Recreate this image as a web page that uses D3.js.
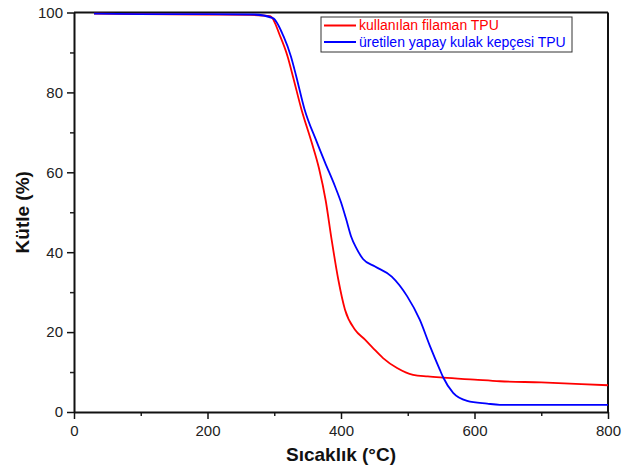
<!DOCTYPE html>
<html>
<head>
<meta charset="utf-8">
<script src="https://cdn.jsdelivr.net/npm/d3@7"></script>
<style>
  body { margin: 0; background: #fff; }
  text { font-family: "Liberation Sans", Arial, sans-serif; }
</style>
</head>
<body>
<div id="chart"></div>
<script>
const width = 634;
const height = 470;

// temperature (°C) / mass (%)
const filamanT = [30, 100, 200, 264, 294, 309, 320, 328, 341, 356, 367, 377, 386, 396, 406, 421, 436, 448, 463, 484, 508, 530, 553, 600, 638, 700, 760, 800];
const filamanM = [99.7, 99.6, 99.5, 99.4, 99.1, 94, 89, 84, 75.6, 67.5, 61, 53, 43.1, 33.1, 25.6, 20.6, 18.1, 16, 13.5, 11, 9.3, 8.9, 8.6, 8.1, 7.7, 7.4, 7.0, 6.7];
const kulakT = [30, 100, 200, 270, 298, 314, 325, 333, 345, 364, 376, 391, 400, 408, 415, 423, 433, 451, 476, 499, 518, 533, 548, 553, 568, 589, 619, 638, 700, 800];
const kulakM = [99.7, 99.6, 99.6, 99.5, 98.6, 94, 89, 84, 76, 67.5, 62.5, 56.5, 52.5, 48.1, 44, 41, 38.3, 36.4, 33.9, 29, 23.1, 16.6, 10.6, 8.7, 4.8, 2.8, 2.1, 1.8, 1.8, 1.8];
const seriesNames = ["kullanılan filaman TPU", "üretilen yapay kulak kepçesi TPU"];
const seriesColors = ["#ff0000", "#0000ff"];
const xTicks = [0, 200, 400, 600, 800];
const yTicks = [0, 20, 40, 60, 80, 100];

const margin = { left: 74, right: 26, top: 12.5, bottom: 58 };

const svg = d3.select("#chart").append("svg")
  .attr("width", width)
  .attr("height", height);

const x = d3.scaleLinear().domain([0, 800]).range([margin.left, width - margin.right]);
const y = d3.scaleLinear().domain([0, 100]).range([height - margin.bottom, margin.top]);

// minor ticks
svg.append("g")
  .attr("transform", `translate(0,${y(0)})`)
  .call(d3.axisBottom(x).tickValues([100, 300, 500, 700]).tickSize(4).tickFormat(""))
  .call(g => g.select(".domain").remove())
  .selectAll("line").attr("stroke", "#222").attr("stroke-width", 1.5);
svg.append("g")
  .attr("transform", `translate(${x(0)},0)`)
  .call(d3.axisLeft(y).tickValues([10, 30, 50, 70, 90]).tickSize(4).tickFormat(""))
  .call(g => g.select(".domain").remove())
  .selectAll("line").attr("stroke", "#222").attr("stroke-width", 1.5);

// major axes
const xAxis = svg.append("g")
  .attr("transform", `translate(0,${y(0)})`)
  .call(d3.axisBottom(x).tickValues(xTicks).tickSize(7).tickSizeOuter(0).tickPadding(6));
const yAxis = svg.append("g")
  .attr("transform", `translate(${x(0)},0)`)
  .call(d3.axisLeft(y).tickValues(yTicks).tickSize(7).tickSizeOuter(0).tickPadding(4));

[xAxis, yAxis].forEach(a => {
  a.select(".domain").attr("stroke", "#111").attr("stroke-width", 2);
  a.selectAll(".tick line").attr("stroke", "#111").attr("stroke-width", 1.5);
  a.selectAll(".tick text")
    .attr("fill", "#222")
    .style("font-size", "15px")
    .style("font-family", "'Liberation Sans', Arial, sans-serif");
});

// top and right frame lines
svg.append("line")
  .attr("x1", x(0)).attr("x2", x(800)).attr("y1", y(100)).attr("y2", y(100))
  .attr("stroke", "#111").attr("stroke-width", 2);
svg.append("line")
  .attr("x1", x(800)).attr("x2", x(800)).attr("y1", y(100)).attr("y2", y(0))
  .attr("stroke", "#111").attr("stroke-width", 2);

const line = d3.line()
  .x(d => x(d[0]))
  .y(d => y(d[1]))
  .curve(d3.curveMonotoneX);

const series = [
  d3.zip(filamanT, filamanM),
  d3.zip(kulakT, kulakM)
];

svg.selectAll(".series")
  .data(series)
  .enter().append("path")
  .attr("class", "series")
  .attr("d", line)
  .attr("fill", "none")
  .attr("stroke", (d, i) => seriesColors[i])
  .attr("stroke-width", 1.8);

// legend
const legend = svg.append("g").attr("transform", "translate(321,17)");
legend.append("rect")
  .attr("width", 251).attr("height", 35)
  .attr("fill", "#fff").attr("stroke", "#333").attr("stroke-width", 1);
seriesNames.forEach((name, i) => {
  const row = legend.append("g").attr("transform", `translate(0,${8.5 + i * 16.5})`);
  row.append("line")
    .attr("x1", 3).attr("x2", 35).attr("y1", 0).attr("y2", 0)
    .attr("stroke", seriesColors[i]).attr("stroke-width", 2);
  row.append("text")
    .attr("x", 38).attr("y", 0).attr("dy", "0.35em")
    .attr("fill", seriesColors[i])
    .style("font-size", "14px")
    .text(name);
});

// axis titles
svg.append("text")
  .attr("x", x(400)).attr("y", 461)
  .attr("text-anchor", "middle")
  .style("font-size", "19px").style("font-weight", "bold")
  .attr("fill", "#111")
  .text("Sıcaklık (°C)");
svg.append("text")
  .attr("transform", `translate(29,${y(50)}) rotate(-90)`)
  .attr("text-anchor", "middle")
  .style("font-size", "19px").style("font-weight", "bold")
  .attr("fill", "#111")
  .text("Kütle (%)");
</script>
</body>
</html>
